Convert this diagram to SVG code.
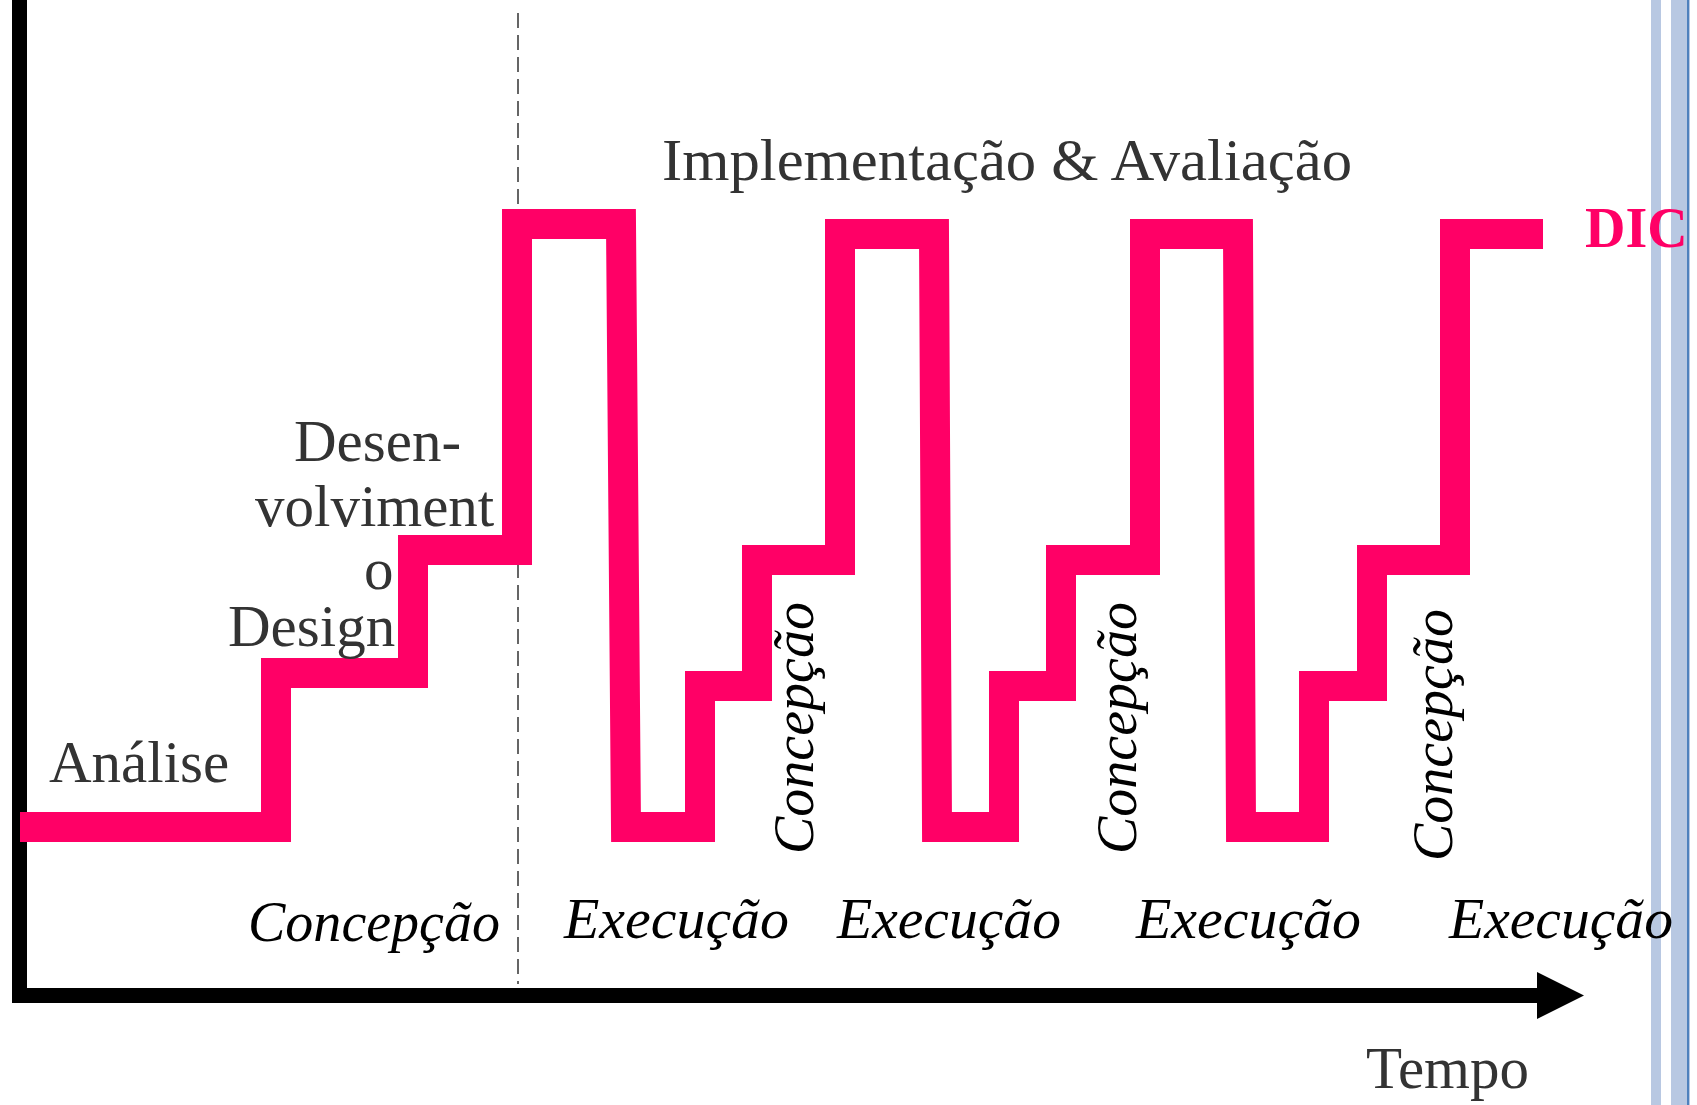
<svg xmlns="http://www.w3.org/2000/svg" width="1697" height="1105" viewBox="0 0 1697 1105">
<style>
.lbl{font-family:"Liberation Serif","Times New Roman",serif;font-size:59px;fill:#333333}
.it{font-family:"Liberation Serif","Times New Roman",serif;font-size:56px;font-style:italic;fill:#000000}
.dic{font-family:"Liberation Serif","Times New Roman",serif;font-size:56px;font-weight:bold;fill:#FF0066}
</style>
<rect x="0" y="0" width="1697" height="1105" fill="#ffffff"/>
<g id="sidebar">
<rect x="1651" y="0" width="10" height="1105" fill="#B8C8E2"/>
<rect x="1671" y="0" width="19" height="1105" fill="#B8C8E2"/>
<rect x="1687" y="0" width="2" height="1105" fill="#4F81BD"/>
</g>
<g id="axes">
<line x1="19.5" y1="0" x2="19.5" y2="1003" stroke="#000" stroke-width="15"/>
<line x1="12" y1="995.5" x2="1540" y2="995.5" stroke="#000" stroke-width="15"/>
<polygon points="1537,972 1584,995.5 1537,1019" fill="#000"/>
<line x1="518" y1="13" x2="518" y2="984" stroke="#333" stroke-width="1.5" stroke-dasharray="15 7"/>
</g>
<g id="connectors">
<polyline fill="none" stroke="#FF0066" stroke-width="30" stroke-linejoin="miter" stroke-miterlimit="10" points="20,827 276,827 276,673 413,673 413,550 517,550 517,224 621,224 626,827 700,827 700,686 757,686 757,560 840,560 840,234 934,234 937,827 1004,827 1004,686 1061,686 1061,560 1145,560 1145,234 1238,234 1241,827 1314,827 1314,686 1372,686 1372,560 1455,560 1455,234 1543,234"/>
</g>
<g id="analise"><text class="lbl" x="49" y="782">Análise</text></g>
<g id="design">
<text class="lbl" x="294" y="461">Desen-</text>
<text class="lbl" x="255" y="526">volviment</text>
<text class="lbl" x="364" y="589">o</text>
<text class="lbl" x="228" y="646">Design</text>
</g>
<g id="impl"><text class="lbl" x="662" y="180" style="font-size:60px" textLength="690" lengthAdjust="spacingAndGlyphs">Implementação &amp; Avaliação</text></g>
<g id="dic"><text class="dic" x="1585" y="247">DIC</text></g>
<g id="tempo"><text class="lbl" x="1366" y="1088">Tempo</text></g>
<g id="concepcao0"><text class="it" x="248" y="941" textLength="252" lengthAdjust="spacingAndGlyphs">Concepção</text></g>
<g id="execucao1"><text class="it" x="564" y="938" textLength="225" lengthAdjust="spacingAndGlyphs">Execução</text></g>
<g id="execucao2"><text class="it" x="837" y="938" textLength="224" lengthAdjust="spacingAndGlyphs">Execução</text></g>
<g id="execucao3"><text class="it" x="1136" y="938" textLength="225" lengthAdjust="spacingAndGlyphs">Execução</text></g>
<g id="execucao4"><text class="it" x="1449" y="938" textLength="224" lengthAdjust="spacingAndGlyphs">Execução</text></g>
<g id="concepcao1"><text class="it" transform="translate(813,854) rotate(-90)">Concepção</text></g>
<g id="concepcao2"><text class="it" transform="translate(1136,854) rotate(-90)">Concepção</text></g>
<g id="concepcao3"><text class="it" transform="translate(1452,861) rotate(-90)">Concepção</text></g>
</svg>
